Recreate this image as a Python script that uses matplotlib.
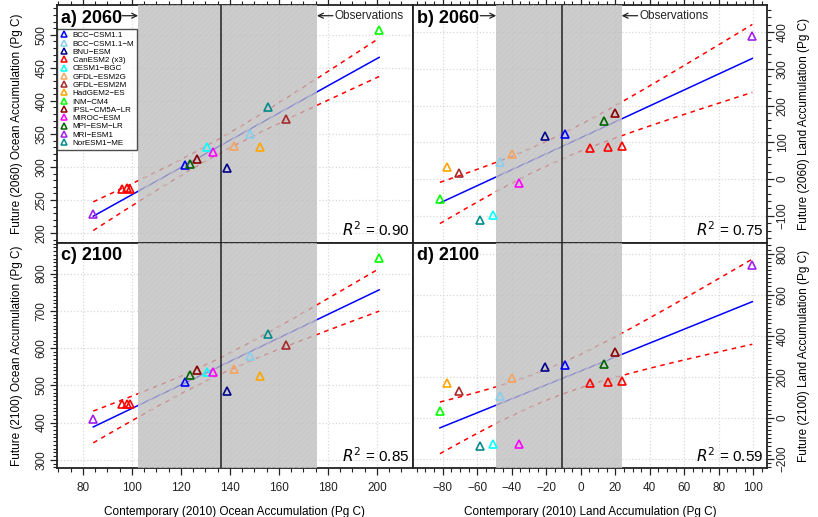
import numpy as np
import matplotlib
matplotlib.use('Agg')
import matplotlib.pyplot as plt
from matplotlib.ticker import MultipleLocator
from matplotlib.lines import Line2D

plt.rcParams['font.family'] = ['Liberation Sans', 'DejaVu Sans']
plt.rcParams['hatch.linewidth'] = 0.6

# models (legend order) and colours
models = ['BCC\u2212CSM1.1', 'BCC\u2212CSM1.1\u2212M', 'BNU\u2212ESM', 'CanESM2 (x3)', 'CESM1\u2212BGC',
          'GFDL\u2212ESM2G', 'GFDL\u2212ESM2M', 'HadGEM2\u2212ES', 'INM\u2212CM4', 'IPSL\u2212CM5A\u2212LR',
          'MIROC\u2212ESM', 'MPI\u2212ESM\u2212LR', 'MRI\u2212ESM1', 'NorESM1\u2212ME']
model_colors = ['#0000FF', '#87CEEB', '#00008B', '#FF0000', '#00FFFF', '#F4A460', '#A52A2A',
                '#FFA500', '#00FF00', '#8B0000', '#FF00FF', '#006400', '#A020F0', '#008B8B']

# one entry per run (CanESM2 has three runs)
point_model = [0, 1, 2, 3, 3, 3, 4, 5, 6, 7, 8, 9, 10, 11, 12, 13]

ocean_2010 = [121.8, 148.1, 138.8, 95.8, 97.9, 99.0, 130.7, 141.5, 162.8, 152.1, 200.9, 126.5, 133.1, 123.8, 84.2, 155.6]
ocean_2060 = [303.3, 349.2, 299.2, 267, 268, 267, 330.6, 331, 372.9, 329.5, 507.6, 312.4, 323.4, 304.4, 228.7, 390.6]
ocean_2100 = [510, 578.8, 485, 449, 449, 449, 535, 543, 608, 526, 843, 540.5, 535, 528, 409, 637]
land_2010 = [-9.0, -46.8, -20.7, 5.3, 15.6, 23.9, -50.9, -39.8, -70.4, -77.3, -81.6, 20.0, -35.8, 13.5, 99.4, -58.2]
land_2060 = [123.5, 46.3, 118, 83.6, 87, 90.7, -99, 67, 17, 33.5, -55, 180.7, -11.8, 159, 390, -111]
land_2100 = [257, 104, 249, 168, 172.7, 179, -128, 193.7, 130, 168, 34, 322, -130, 260, 745, -138]

# observed contemporary accumulation (best estimate, range)
ocean_obs = [136.5, 102.5, 175.5]
land_obs = [-10.7, -49.0, 23.7]

panel_titles = ['a) 2060', 'b) 2060', 'c) 2100', 'd) 2100']
r2_labels = ['0.90', '0.75', '0.85', '0.59']

T_CRIT = 2.145  # t(0.975, df=14)

fig = plt.figure(figsize=(8.18, 5.17), dpi=100)
L, M, R = 57 / 818, 413 / 818, 767 / 818
T, MID, B = 1 - 5 / 517, 1 - 243 / 517, 1 - 468 / 517
ax_a = fig.add_axes([L, MID, M - L, T - MID])
ax_b = fig.add_axes([M, MID, R - M, T - MID])
ax_c = fig.add_axes([L, B, M - L, MID - B])
ax_d = fig.add_axes([M, B, R - M, MID - B])

ocean_xlim = (69.4, 214.7)
land_xlim = (-97.2, 107.9)


def panel(ax, x, y, obs, xlim, ylim, title, r2, xmaj, ymaj, ymin):
    x = np.array(x)
    y = np.array(y)
    ax.set_xlim(xlim)
    ax.set_ylim(ylim)
    ax.xaxis.set_major_locator(MultipleLocator(xmaj))
    ax.xaxis.set_minor_locator(MultipleLocator(5))
    ax.yaxis.set_major_locator(MultipleLocator(ymaj))
    ax.yaxis.set_minor_locator(MultipleLocator(ymin))
    ax.grid(True, which='major', color='#d9d9d9', linestyle=':', linewidth=0.9, zorder=0)
    ax.set_axisbelow(True)

    # regression and 95% confidence band
    b1, b0 = np.polyfit(x, y, 1)
    n = len(x)
    xm = x.mean()
    s = np.sqrt(np.sum((y - (b0 + b1 * x)) ** 2) / (n - 2))
    sxx = np.sum((x - xm) ** 2)
    xs = np.linspace(x.min(), x.max(), 200)
    yh = b0 + b1 * xs
    band = T_CRIT * s * np.sqrt(1 / n + (xs - xm) ** 2 / sxx)
    ax.plot(xs, yh, color='blue', lw=1.1, zorder=2)
    ax.plot(xs, yh + band, color='red', lw=1.1, dashes=(3, 3), zorder=2)
    ax.plot(xs, yh - band, color='red', lw=1.1, dashes=(3, 3), zorder=2)

    # observational range
    ax.axvspan(obs[1], obs[2], facecolor='#bcbcbc', edgecolor='#d2d2d2', hatch='//////',
               linewidth=0, alpha=0.78, zorder=3)
    ax.axvline(obs[0], color='#222222', lw=1.1, zorder=4)

    for xi, yi, m in zip(x, y, point_model):
        ax.plot(xi, yi, marker='^', ms=6.3, mfc='none', mec=model_colors[m], mew=1.2,
                linestyle='none', zorder=5)

    ax.text(0.012, 0.945, title, transform=ax.transAxes, fontsize=13, fontweight='bold',
            va='center', ha='left', zorder=6)
    ax.text(0.99, 0.015, r'$R^2$ = ' + r2, transform=ax.transAxes, fontsize=11,
            ha='right', va='bottom', zorder=6)

    for sp in ax.spines.values():
        sp.set_linewidth(1.3)
        sp.set_color('#222222')
    ax.tick_params(which='both', direction='out', labelsize=8.5, colors='#222222', pad=2)
    ax.tick_params(which='major', length=5, width=0.9)
    ax.tick_params(which='minor', length=3, width=0.8)


panel(ax_a, ocean_2010, ocean_2060, ocean_obs, ocean_xlim, (185, 545), panel_titles[0], r2_labels[0], 20, 50, 10)
panel(ax_b, land_2010, land_2060, land_obs, land_xlim, (-174, 474), panel_titles[1], r2_labels[1], 20, 100, 20)
panel(ax_c, ocean_2010, ocean_2100, ocean_obs, ocean_xlim, (278, 882), panel_titles[2], r2_labels[2], 20, 100, 10)
panel(ax_d, land_2010, land_2100, land_obs, land_xlim, (-245, 852), panel_titles[3], r2_labels[3], 20, 200, 20)

# "Observations" arrows on the top row
for ax, obs, xlim in [(ax_a, ocean_obs, ocean_xlim), (ax_b, land_obs, land_xlim)]:
    dx = 0.045 * (xlim[1] - xlim[0])
    arrow = dict(arrowstyle='->', lw=0.9, color='#222222', mutation_scale=9, shrinkA=0, shrinkB=0)
    ax.annotate('', xy=(obs[1], 0.955), xytext=(obs[1] - dx, 0.955),
                xycoords=('data', 'axes fraction'), textcoords=('data', 'axes fraction'),
                arrowprops=arrow, zorder=6)
    ax.annotate('', xy=(obs[2], 0.955), xytext=(obs[2] + dx, 0.955),
                xycoords=('data', 'axes fraction'), textcoords=('data', 'axes fraction'),
                arrowprops=arrow, zorder=6)
    ax.text(obs[2] + dx * 1.12, 0.955, 'Observations', transform=ax.get_xaxis_transform(),
            fontsize=8.5, va='center', ha='left', color='#222222', zorder=6)

# tick placement
for ax in (ax_a, ax_b):
    ax.tick_params(axis='x', which='both', bottom=False, top=True, labelbottom=False, labeltop=False)
for ax in (ax_c, ax_d):
    ax.tick_params(axis='x', which='both', bottom=True, top=False, labelbottom=True, pad=5)
for ax in (ax_a, ax_c):
    ax.tick_params(axis='y', which='both', left=True, right=False, labelleft=True)
    for lab in ax.get_yticklabels():
        lab.set_rotation(90)
        lab.set_va('center')
for ax in (ax_b, ax_d):
    ax.tick_params(axis='y', which='both', left=False, right=True, labelleft=False, labelright=True)
    for lab in ax.get_yticklabels():
        lab.set_rotation(90)
        lab.set_va('center')

ax_a.set_ylabel('Future (2060) Ocean Accumulation (Pg C)', fontsize=8.5, labelpad=9)
ax_c.set_ylabel('Future (2100) Ocean Accumulation (Pg C)', fontsize=8.5, labelpad=9)
ax_b.yaxis.set_label_position('right')
ax_d.yaxis.set_label_position('right')
ax_b.set_ylabel('Future (2060) Land Accumulation (Pg C)', fontsize=8.5, labelpad=7, rotation=90)
ax_d.set_ylabel('Future (2100) Land Accumulation (Pg C)', fontsize=8.5, labelpad=7, rotation=90)
ax_c.set_xlabel('Contemporary (2010) Ocean Accumulation (Pg C)', fontsize=8.5, labelpad=9)
ax_d.set_xlabel('Contemporary (2010) Land Accumulation (Pg C)', fontsize=8.5, labelpad=9)

handles = [Line2D([], [], marker='^', ms=3.8, mfc='none', mec=c, mew=1.1, linestyle='none')
           for c in model_colors]
leg = ax_a.legend(handles, models, loc='upper left', bbox_to_anchor=(0.0, 0.9), fontsize=5.8,
                  frameon=True, fancybox=False, handlelength=1.0, handletextpad=0.6,
                  labelspacing=0.08, borderpad=0.35, borderaxespad=0.0)
leg.get_frame().set_edgecolor('#222222')
leg.get_frame().set_linewidth(1.0)
leg.set_zorder(10)

fig.savefig('out.png', dpi=100)
